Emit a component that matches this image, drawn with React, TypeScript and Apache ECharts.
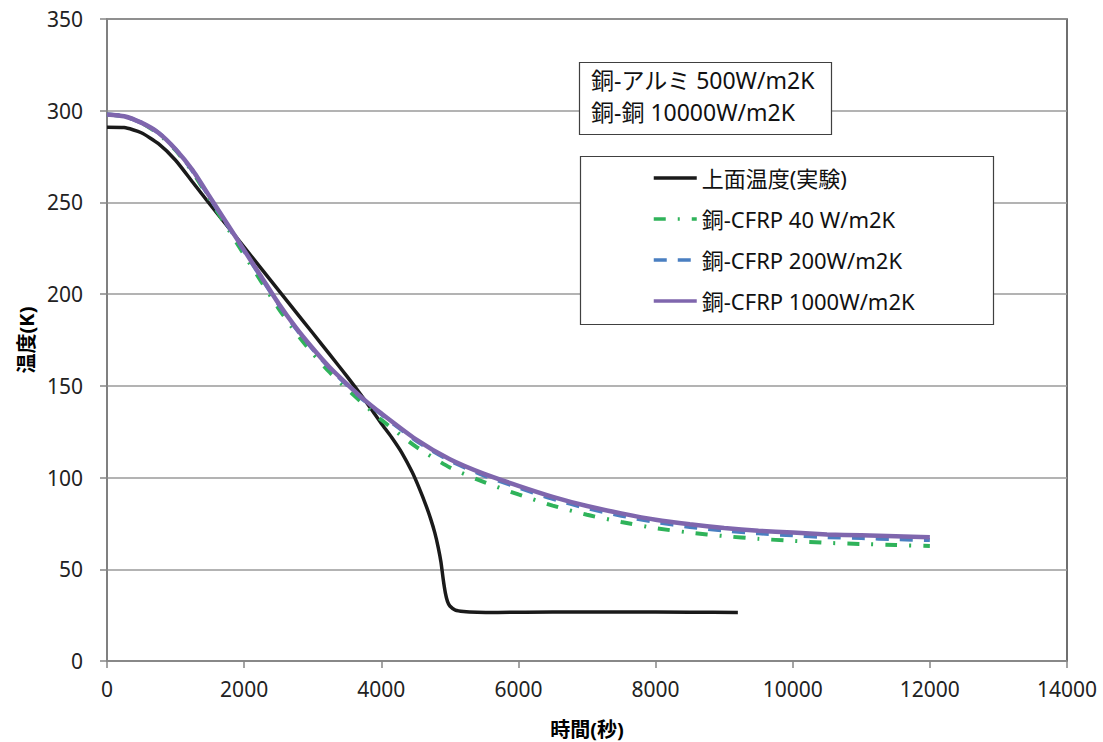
import React, { useEffect, useRef } from "react";
import * as echarts from "echarts";

const expTime = [0, 250, 500, 750, 1000, 1250, 1500, 1750, 2000, 2250, 2500, 2750, 3000, 3250, 3500, 3700, 3850, 4000, 4150, 4300, 4450, 4550, 4650, 4720, 4780, 4830, 4870, 4905, 4935, 4965, 5000, 5080, 5200, 5400, 5700, 6500, 7500, 8500, 9200];
const expTemp = [291, 290.8, 288, 282, 273, 261, 249, 237.3, 225.6, 213.9, 202.2, 190.5, 178.8, 167, 155.2, 145.3, 137.5, 129.5, 122, 113.5, 103, 94.5, 85, 77.5, 70, 62, 54, 44, 37, 32.5, 30, 27.8, 27, 26.6, 26.5, 26.7, 26.7, 26.6, 26.5];

const simTime = [0, 250, 500, 750, 1000, 1250, 1500, 1750, 2000, 2250, 2500, 2750, 3000, 3250, 3500, 3750, 4000, 4500, 5000, 5500, 6000, 6500, 7000, 7500, 8000, 8500, 9000, 9500, 10000, 10500, 11000, 11500, 12000];
const cfrp40 = [298, 297, 293.5, 287.5, 278.5, 266.5, 251.5, 236.5, 221.5, 206.8, 192.3, 179.2, 167.7, 157.3, 148.3, 139.8, 131.5, 117, 105.5, 97.5, 90.8, 84.7, 79.7, 75.8, 72.4, 70, 68.1, 66.6, 65.5, 64.4, 63.8, 63.2, 62.7];
const cfrp200 = [298, 297, 293.5, 288, 279, 267, 252.5, 238, 223.5, 209, 194.5, 181.5, 170, 159.5, 150.5, 142, 134.5, 120.3, 109.2, 101.1, 94.5, 88.4, 83.3, 79.2, 75.7, 73.1, 71.1, 69.6, 68.5, 67.5, 67, 66.4, 65.9];
const cfrp1000 = [298, 297, 293.5, 288, 279, 267.5, 253, 238.5, 224, 209.5, 195, 182, 170.5, 160, 151, 142.5, 135, 121, 110, 102, 95.5, 89.5, 84.5, 80.5, 77, 74.5, 72.5, 71, 70, 69, 68.5, 68, 67.5];

const seriesNames = ["上面温度(実験)", "銅-CFRP 40 W/m2K", "銅-CFRP 200W/m2K", "銅-CFRP 1000W/m2K"];
const noteLines = ["銅-アルミ 500W/m2K", "銅-銅 10000W/m2K"];
const xTitle = "時間(秒)";
const yTitle = "温度(K)";

const FONT = "'Noto Sans', 'Noto Sans CJK JP', sans-serif";

const zip = (xs: number[], ys: number[]) => xs.map((x, i) => [x, ys[i]]);

export default function App() {
  const ref = useRef<HTMLDivElement>(null);
  useEffect(() => {
    if (!ref.current) return;
    const chart = echarts.init(ref.current, undefined, { renderer: "svg" });
    const lineBase = { type: "line" as const, symbol: "none", smooth: 0.2, animation: false };
    chart.setOption({
      animation: false,
      backgroundColor: "#ffffff",
      textStyle: { fontFamily: FONT },
      grid: {
        left: 107, right: 36, top: 19, bottom: 81,
        outerBoundsMode: "none", containLabel: false,
        show: true, borderColor: "#404040", borderWidth: 1.5, backgroundColor: "transparent",
      },
      xAxis: {
        type: "value", min: 0, max: 14000, interval: 2000,
        name: xTitle, nameLocation: "middle", nameGap: 58,
        nameTextStyle: { fontFamily: FONT, fontSize: 20, fontWeight: "bold", color: "#000" },
        axisLine: { show: true, onZero: false, lineStyle: { color: "#868686", width: 1.5 } },
        axisTick: { show: true, inside: false, length: 7, lineStyle: { color: "#868686", width: 1.5 } },
        axisLabel: { fontFamily: FONT, fontSize: 21, color: "#222", margin: 17, formatter: (v: number) => String(v) },
        splitLine: { show: false },
      },
      yAxis: {
        type: "value", min: 0, max: 350, interval: 50,
        name: yTitle, nameLocation: "middle", nameGap: 66, nameRotate: 90,
        nameTextStyle: { fontFamily: FONT, fontSize: 20, fontWeight: "bold", color: "#000" },
        axisLine: { show: true, lineStyle: { color: "#868686", width: 1.5 } },
        axisTick: { show: true, inside: false, length: 7, lineStyle: { color: "#868686", width: 1.5 } },
        axisLabel: { fontFamily: FONT, fontSize: 21, color: "#222", margin: 24, formatter: (v: number) => String(v) },
        splitLine: { show: true, lineStyle: { color: "#9a9a9a", width: 1.5 } },
      },
      legend: {
        orient: "vertical", left: 652, top: 167, padding: 0,
        itemWidth: 43, itemHeight: 22, itemGap: 19,
        itemStyle: { opacity: 0 },
        lineStyle: { width: 3.5 },
        textStyle: { fontFamily: FONT, fontSize: 22, color: "#111", lineHeight: 22 },
        data: seriesNames,
      },
      graphic: [
        { type: "rect", shape: { x: 579.5, y: 62.5, width: 252, height: 72 }, style: { fill: "#fff", stroke: "#404040", lineWidth: 1.2 }, z: 10 },
        { type: "text", x: 591, y: 80, style: { text: noteLines[0], font: `23px ${FONT}`, fill: "#111", verticalAlign: "middle" }, z: 11 },
        { type: "text", x: 591, y: 112, style: { text: noteLines[1], font: `23px ${FONT}`, fill: "#111", verticalAlign: "middle" }, z: 11 },
        { type: "rect", shape: { x: 580.5, y: 156.5, width: 413, height: 168 }, style: { fill: "#fff", stroke: "#404040", lineWidth: 1.2 }, z: 1 },
      ],
      series: [
        { ...lineBase, name: seriesNames[0], data: zip(expTime, expTemp), z: 3, lineStyle: { color: "#1a1a1a", width: 3.5 }, itemStyle: { color: "#1a1a1a" } },
        { ...lineBase, name: seriesNames[1], data: zip(simTime, cfrp40), z: 4, lineStyle: { color: "#2fb35a", width: 4, type: [12, 12, 2, 12], cap: "butt" }, itemStyle: { color: "#2fb35a" } },
        { ...lineBase, name: seriesNames[2], data: zip(simTime, cfrp200), z: 5, lineStyle: { color: "#4a7fc1", width: 4, type: [13, 11], cap: "butt" }, itemStyle: { color: "#4a7fc1" } },
        { ...lineBase, name: seriesNames[3], data: zip(simTime, cfrp1000), z: 6, lineStyle: { color: "#7f66ad", width: 4.5 }, itemStyle: { color: "#7f66ad" } },
      ],
    });
    return () => chart.dispose();
  }, []);
  return <div ref={ref} style={{ position: "fixed", left: 0, top: 0, width: 1103, height: 742, background: "#fff" }} />;
}
